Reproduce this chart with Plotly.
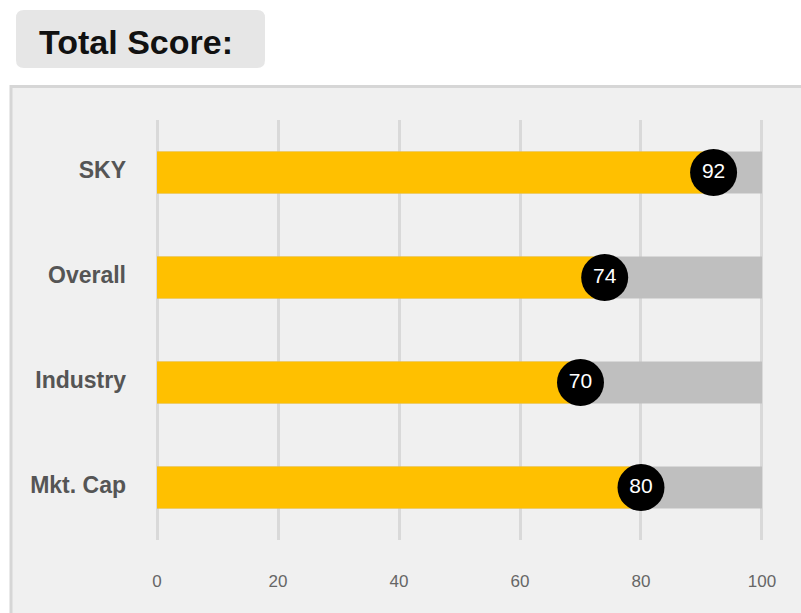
import plotly.graph_objects as go

categories = ["SKY", "Overall", "Industry", "Mkt. Cap"]
scores = [92, 74, 70, 80]
max_score = [100, 100, 100, 100]
tick_vals = [0, 20, 40, 60, 80, 100]

W, H = 801, 613
L, R, T, B = 154, 36, 120, 73
pw, ph = W - L - R, H - T - B

def px(x):
    return (x - L) / pw

def py(y):
    return (H - B - y) / ph

fig = go.Figure()
fig.add_trace(go.Bar(y=categories, x=max_score, orientation="h", marker=dict(color="#BFBFBF", line=dict(width=0)),
                     width=0.4, hoverinfo="skip"))
fig.add_trace(go.Bar(y=categories, x=scores, orientation="h", marker=dict(color="#FFC000", line=dict(width=0)),
                     width=0.4, hoverinfo="skip"))
fig.add_trace(go.Scatter(y=categories, x=scores, mode="markers+text", text=[str(s) for s in scores],
                         textposition="middle center",
                         textfont=dict(color="white", size=21, family="Liberation Sans, Arial, sans-serif"),
                         marker=dict(color="black", size=47, line=dict(width=0)), cliponaxis=False))

def rrect(x0, y0, x1, y1, r):
    return (f"M{px(x0+r)},{py(y0)} L{px(x1-r)},{py(y0)} Q{px(x1)},{py(y0)} {px(x1)},{py(y0+r)} "
            f"L{px(x1)},{py(y1-r)} Q{px(x1)},{py(y1)} {px(x1-r)},{py(y1)} L{px(x0+r)},{py(y1)} "
            f"Q{px(x0)},{py(y1)} {px(x0)},{py(y1-r)} L{px(x0)},{py(y0+r)} Q{px(x0)},{py(y0)} {px(x0+r)},{py(y0)} Z")

shapes = [
    dict(type="rect", xref="paper", yref="paper", x0=px(11), x1=px(815), y0=py(86.5), y1=py(630),
         fillcolor="#F0F0F0", line=dict(color="#D6D6D6", width=3), layer="below"),
    dict(type="path", xref="paper", yref="paper", path=rrect(16, 10, 265, 68, 8),
         fillcolor="#E6E6E6", line=dict(width=0), layer="below"),
]

fig.update_layout(
    width=W, height=H,
    margin=dict(l=L, r=R, t=T, b=B, pad=0),
    paper_bgcolor="white", plot_bgcolor="rgba(0,0,0,0)",
    barmode="overlay", showlegend=False,
    shapes=shapes,
    annotations=[dict(text="<b>Total Score:</b>", xref="paper", yref="paper", x=px(37), y=py(42),
                      xanchor="left", yanchor="middle", showarrow=False,
                      font=dict(size=34, color="#111111", family="Liberation Sans, Arial, sans-serif"))],
    xaxis=dict(range=[-0.5, 100.5], tickvals=tick_vals, showgrid=True, gridcolor="#D9D9D9", gridwidth=3,
               zeroline=False, showline=False, ticks="", ticklabelstandoff=29,
               tickfont=dict(size=17, color="#666666", family="Liberation Sans Narrow, Arial Narrow, Liberation Sans, sans-serif")),
    yaxis=dict(categoryorder="array", categoryarray=categories, range=[3.5, -0.5], showgrid=False,
               zeroline=False, showline=False, ticks="", ticklabelstandoff=27, ticklabelshift=3,
               tickfont=dict(size=23, color="#555555", family="Liberation Sans, Arial, sans-serif")),
)
fig.update_yaxes(tickprefix="<b>", ticksuffix="</b>")
fig.write_html("out.html")
